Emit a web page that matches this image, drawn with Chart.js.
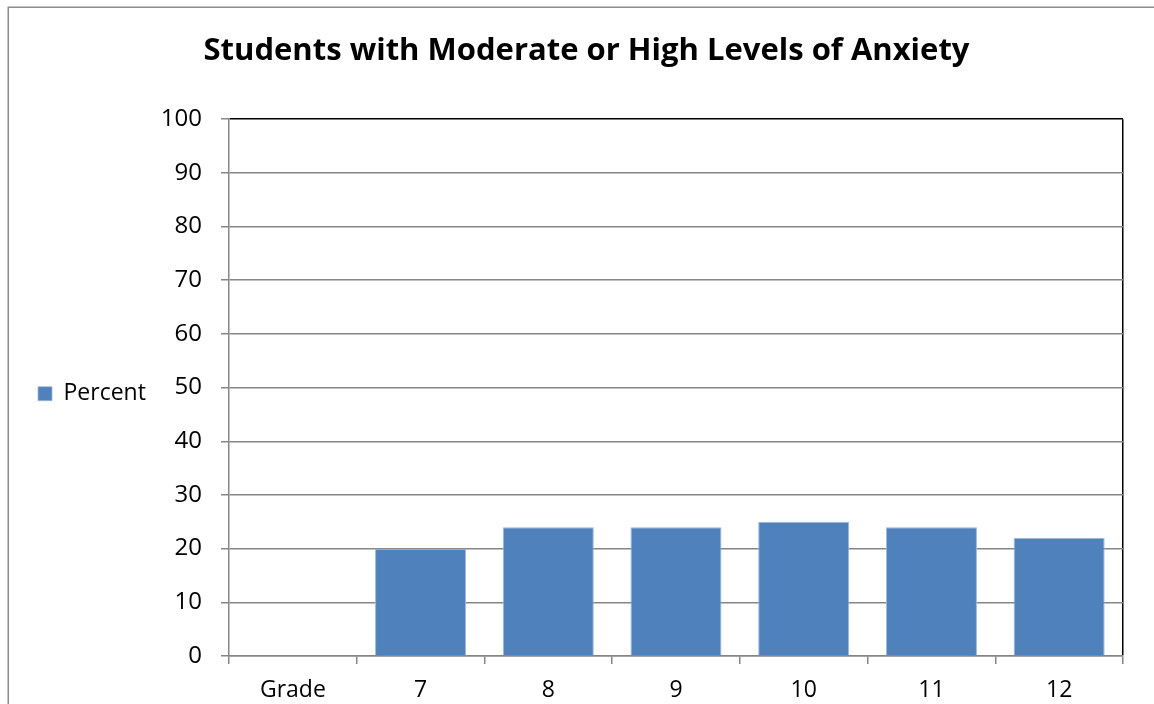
<!DOCTYPE html>
<html>
<head>
<meta charset="utf-8">
<title>Students with Moderate or High Levels of Anxiety</title>
<script src="https://cdn.jsdelivr.net/npm/chart.js@4.4.1/dist/chart.umd.min.js"></script>
<style>
  html, body { margin: 0; padding: 0; background: #ffffff; }
  #wrap { width: 1154px; height: 704px; position: relative; }
</style>
</head>
<body>
<div id="wrap"><canvas id="chart" width="1154" height="704"></canvas></div>
<script>
// Categories along the x axis
const categories = ['Grade', '7', '8', '9', '10', '11', '12'];
// Percent of students per grade (first slot is the axis caption, no bar)
const percentValues = [null, 20, 24, 24, 25, 24, 22];
// Y axis range and step
const yTicks = { min: 0, max: 100, step: 10 };

const seriesLabel = 'Percent';
const titleText = 'Students with Moderate or High Levels of Anxiety';

const FONT = "'Open Sans', 'Liberation Sans', sans-serif";
const GRID = '#868686';
const BAR = '#4F81BD';

// Thin frame around the whole chart object
const framePlugin = {
  id: 'frame',
  beforeDraw(chart) {
    const ctx = chart.ctx;
    ctx.save();
    ctx.fillStyle = '#ffffff';
    ctx.fillRect(0, 0, chart.width, chart.height);
    ctx.strokeStyle = '#8c8c8c';
    ctx.lineWidth = 1.5;
    ctx.strokeRect(8.25, 7.25, chart.width + 20, chart.height + 20);
    ctx.restore();
  }
};

const PAD_LEFT = 28;
const PLOT_LEFT = 229;

new Chart(document.getElementById('chart'), {
  type: 'bar',
  data: {
    labels: categories,
    datasets: [{
      label: seriesLabel,
      data: percentValues,
      yAxisID: 'y',
      backgroundColor: BAR,
      borderColor: '#9db8da',
      borderWidth: { top: 1, left: 1, right: 1, bottom: 0 },
      barPercentage: 0.713,
      categoryPercentage: 1.0
    }]
  },
  options: {
    responsive: false,
    animation: false,
    layout: { padding: { left: PAD_LEFT, right: 9, top: 10, bottom: 0 } },
    plugins: {
      title: {
        display: true,
        text: titleText,
        color: '#000000',
        font: { family: FONT, size: 31, weight: 'bold' },
        padding: { top: 23, bottom: 49 }
      },
      legend: {
        display: true,
        position: 'left',
        fullSize: false,
        title: {
          display: true,
          text: '',
          font: { size: 1 },
          padding: { top: 11, bottom: 0 }
        },
        labels: {
          color: '#000000',
          font: { family: FONT, size: 23 },
          boxWidth: 14,
          boxHeight: 14,
          padding: 10
        }
      },
      tooltip: { enabled: false }
    },
    scales: {
      x: {
        offset: true,
        grid: {
          offset: true,
          drawOnChartArea: true,
          color: (c) => (c.type === 'tick' ? 'rgba(0,0,0,0)' : '#000000'),
          lineWidth: 1.5,
          tickColor: GRID,
          tickLength: 8
        },
        border: { display: true, color: GRID, width: 1.5 },
        ticks: {
          color: '#000000',
          font: { family: FONT, size: 23 },
          padding: 13,
          maxRotation: 0
        },
        afterFit(s) { s.height = 48; }
      },
      y: {
        position: 'left',
        min: yTicks.min,
        max: yTicks.max,
        grid: {
          color: (c) => (c.tick && c.tick.value === yTicks.max ? '#000000' : GRID),
          lineWidth: 1.5,
          tickColor: GRID,
          tickLength: 8
        },
        border: { display: true, color: GRID, width: 1.5 },
        ticks: {
          stepSize: yTicks.step,
          color: '#000000',
          font: { family: FONT, size: 24 },
          padding: 19
        },
        afterFit(s) {
          const lw = (s.chart.legend && s.chart.legend.width) || 0;
          s.width = PLOT_LEFT - PAD_LEFT - lw;
        }
      },
      yRight: {
        position: 'right',
        min: 0,
        max: 100,
        grid: { display: false, drawTicks: false },
        border: { display: false },
        ticks: { display: false },
        afterFit(s) { s.width = 22; }
      }
    }
  },
  plugins: [framePlugin]
});
</script>
</body>
</html>
